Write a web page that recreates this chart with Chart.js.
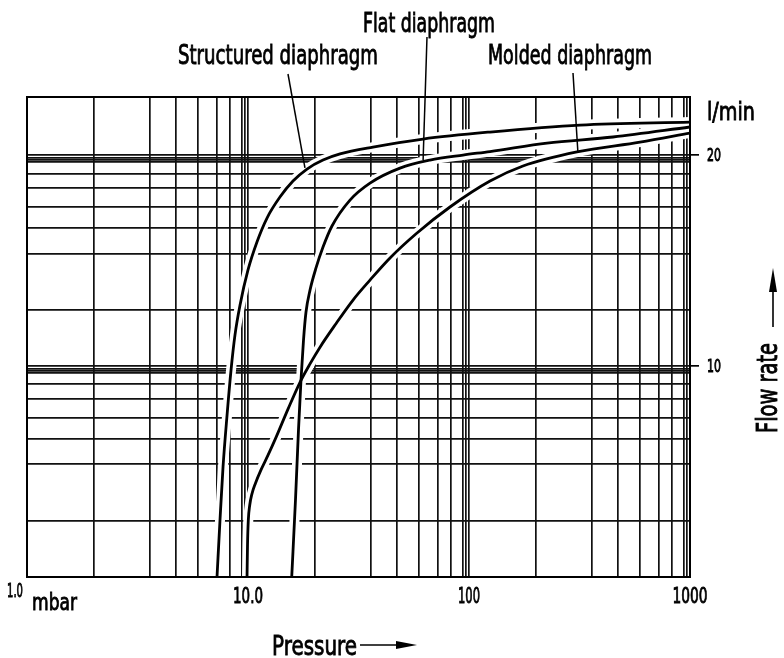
<!DOCTYPE html>
<html>
<head>
<meta charset="utf-8">
<script src="https://cdn.jsdelivr.net/npm/chart.js@4.4.1/dist/chart.umd.min.js"></script>
<style>
  html, body { margin: 0; padding: 0; background: #fff; }
  #wrap { width: 784px; height: 658px; }
</style>
</head>
<body>
<div id="wrap"><canvas id="chart"></canvas></div>
<script>
// pressure (mbar) / flow rate (l/min)
const structuredX = [7.24, 7.47, 7.71, 8.04, 8.38, 8.73, 9.20, 10.0, 10.98, 12.19, 13.95, 15.98, 18.49, 21.85, 26.09, 36.78, 61.92, 124.5, 317.9, 1000];
const structuredY = [5.0, 6.03, 7.18, 8.51, 9.87, 11.07, 12.21, 13.71, 15.03, 16.26, 17.42, 18.36, 19.10, 19.67, 20.07, 20.53, 21.08, 21.57, 22.07, 22.29];

const flatX = [15.77, 16.40, 16.92, 17.37, 17.83, 18.30, 19.08, 20.31, 21.85, 23.99, 28.94, 35.65, 48.73, 66.61, 93.95, 124.5, 225.4, 448.3, 1000];
const flatY = [5.0, 6.44, 8.10, 9.55, 10.89, 11.94, 12.83, 13.80, 14.78, 15.84, 17.25, 18.24, 19.16, 19.67, 20.0, 20.23, 20.80, 21.22, 21.93];

const moldedX = [9.90, 9.95, 10.03, 10.18, 10.42, 10.80, 11.45, 12.32, 13.39, 15.17, 17.19, 19.08, 21.18, 24.76, 29.87, 35.65, 43.91, 58.18, 82.04, 124.5, 175.5, 308.1, 593.9, 1000];
const moldedY = [5.0, 5.56, 6.02, 6.33, 6.57, 6.80, 7.11, 7.46, 7.91, 8.68, 9.48, 10.07, 10.64, 11.44, 12.42, 13.26, 14.26, 15.48, 16.86, 18.36, 19.29, 20.20, 20.87, 21.50];

// grid of the original drawing paper
const xGridValues = [1, 2, 3.6, 4.7, 5.9, 7.2, 8.3, 9.4, 9.7,
    10, 20, 36, 47, 59, 72, 83, 94, 97,
    100, 200, 360, 470, 590, 720, 830, 940, 970, 1000];
const yGridValues = [5, 6.02, 7.24, 7.86, 8.44, 8.97, 9.42, 9.78, 9.85, 9.92,
    10, 12.04, 14.47, 15.72, 16.88, 17.93, 18.83, 19.55, 19.69, 19.84, 20];

const xLabelValues = [10, 100, 1000];
const xLabelTexts = ['10.0', '100', '1000'];
const yLabelValues = [20, 10];
const yLabelTexts = ['20', '10'];

const calloutTexts = ['Structured diaphragm', 'Flat diaphragm', 'Molded diaphragm'];
const calloutX = [18.1, 62, 311];
const calloutY = [19.17, 19.67, 20.2];

const FONT = '"DejaVu Sans", sans-serif';

function buildDatasets() {
    const curves = [[structuredX, structuredY], [flatX, flatY], [moldedX, moldedY]];
    const datasets = [];
    curves.forEach(([xs, ys]) => {
        const pts = xs.map((x, i) => ({ x: x, y: ys[i] }));
        // white halo breaks the grid around each curve, like the drawing
        datasets.push({ data: pts, borderColor: '#fff', borderWidth: 10, pointRadius: 0, cubicInterpolationMode: 'monotone', order: 2 });
        datasets.push({ data: pts, borderColor: '#000', borderWidth: 2.8, pointRadius: 0, cubicInterpolationMode: 'monotone', order: 1 });
    });
    return datasets;
}

// narrow lettering: squeeze text to the width it has in the drawing
function label(ctx, text, x, y, size, width, align) {
    ctx.save();
    ctx.font = size + 'px ' + FONT;
    ctx.textBaseline = 'alphabetic';
    ctx.textAlign = align;
    const sx = width / ctx.measureText(text).width;
    ctx.translate(x, y);
    ctx.scale(sx, 1);
    ctx.lineWidth = 0.9;
    ctx.fillText(text, 0, 0);
    ctx.strokeText(text, 0, 0);
    ctx.restore();
}

const drawingPlugin = {
    id: 'drawing',
    afterDatasetsDraw(chart) {
        const ctx = chart.ctx;
        const a = chart.chartArea;
        const xs = chart.scales.x;
        const ys = chart.scales.y;
        ctx.save();
        ctx.strokeStyle = '#000';
        ctx.fillStyle = '#000';
        ctx.lineWidth = 2;
        ctx.strokeRect(a.left, a.top, a.right - a.left, a.bottom - a.top);

        // callouts
        const textPos = [[278, 64, 200, 288, 74], [429, 32, 132, 427, 37], [570, 64, 164, 573, 73]];
        calloutTexts.forEach((t, i) => {
            const p = textPos[i];
            label(ctx, t, p[0], p[1], 26, p[2], 'center');
            ctx.lineWidth = 1.5;
            ctx.beginPath();
            ctx.moveTo(p[3], p[4]);
            ctx.lineTo(xs.getPixelForValue(calloutX[i]), ys.getPixelForValue(calloutY[i]));
            ctx.stroke();
        });

        // tick labels at the scale positions
        const xW = [30, 22, 35];
        xLabelValues.forEach((v, i) => {
            label(ctx, xLabelTexts[i], xs.getPixelForValue(v), 603, 21, xW[i], 'center');
        });
        label(ctx, '1.0', 7, 597, 20, 16, 'left');
        yLabelValues.forEach((v, i) => {
            label(ctx, yLabelTexts[i], 707, ys.getPixelForValue(v) + 6, 17, 14, 'left');
        });

        // axis words
        label(ctx, 'mbar', 32, 610, 23, 45, 'left');
        label(ctx, 'l/min', 707, 120, 25, 48, 'left');
        label(ctx, 'Pressure', 272, 655, 27, 85, 'left');

        // pressure arrow
        ctx.lineWidth = 1.6;
        ctx.beginPath();
        ctx.moveTo(360, 645);
        ctx.lineTo(400, 645);
        ctx.stroke();
        ctx.beginPath();
        ctx.moveTo(417, 645);
        ctx.lineTo(396, 641);
        ctx.lineTo(396, 649);
        ctx.closePath();
        ctx.fill();

        // flow rate title + arrow
        ctx.save();
        ctx.translate(777, 388);
        ctx.rotate(-Math.PI / 2);
        label(ctx, 'Flow rate', 0, 0, 28, 90, 'center');
        ctx.restore();
        ctx.lineWidth = 1.6;
        ctx.beginPath();
        ctx.moveTo(773, 327);
        ctx.lineTo(773, 288);
        ctx.stroke();
        ctx.beginPath();
        ctx.moveTo(773, 268);
        ctx.lineTo(769, 292);
        ctx.lineTo(777, 292);
        ctx.closePath();
        ctx.fill();
        ctx.restore();
    }
};

new Chart(document.getElementById('chart'), {
    type: 'line',
    data: { datasets: buildDatasets() },
    options: {
        responsive: true,
        maintainAspectRatio: false,
        animation: false,
        layout: { padding: { left: 27, top: 97, right: 0, bottom: 0 } },
        plugins: {
            legend: { display: false },
            tooltip: { enabled: false }
        },
        scales: {
            x: {
                type: 'logarithmic',
                min: 1,
                max: 1000,
                afterBuildTicks: s => { s.ticks = xGridValues.map(v => ({ value: v })); },
                afterFit: s => { s.height = 81; },
                border: { display: false },
                grid: { color: '#111', lineWidth: 1.7, drawTicks: false },
                ticks: { display: false }
            },
            y: {
                type: 'logarithmic',
                position: 'right',
                min: 5,
                max: 24.2,
                afterBuildTicks: s => { s.ticks = yGridValues.map(v => ({ value: v })); },
                afterFit: s => { s.width = 94; },
                border: { display: false },
                grid: {
                    color: '#111',
                    lineWidth: 1.7,
                    tickLength: 9,
                    tickColor: c => yLabelValues.includes(c.tick && c.tick.value) ? '#000' : 'rgba(0,0,0,0)'
                },
                ticks: { display: false }
            }
        }
    },
    plugins: [drawingPlugin]
});
</script>
</body>
</html>
